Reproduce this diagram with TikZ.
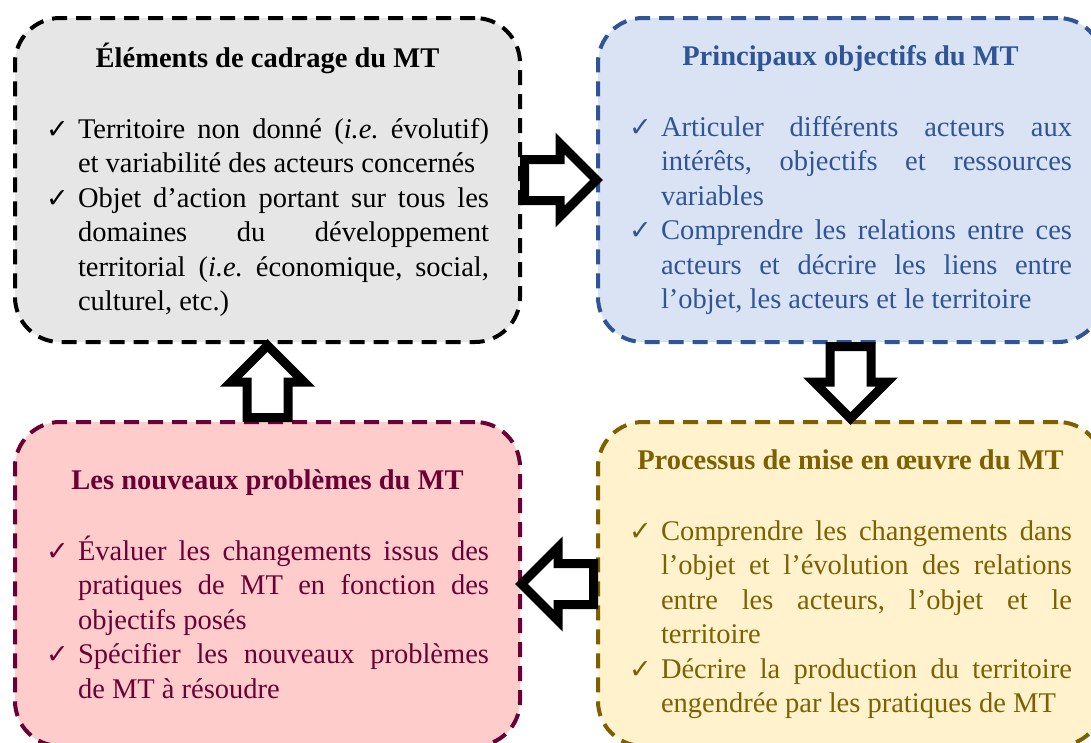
\documentclass[tikz,border=0pt]{standalone}
\usepackage{fontspec}
\setmainfont{Liberation Serif}
\newfontfamily\checkfont{DejaVu Sans}
\usetikzlibrary{positioning,shapes.arrows}

\definecolor{cadreline}{HTML}{000000}
\definecolor{cadrefill}{HTML}{E7E6E6}
\definecolor{objline}{HTML}{2F5597}
\definecolor{objfill}{HTML}{DAE3F3}
\definecolor{procline}{HTML}{7F6000}
\definecolor{procfill}{HTML}{FFF2CC}
\definecolor{probline}{HTML}{6B0036}
\definecolor{probfill}{HTML}{FFCCCC}

\hyphenpenalty=10000
\tolerance=9999
\emergencystretch=20pt
\frenchspacing

\newcommand{\paneltitle}[1]{{\centering\bfseries #1\par}\vskip 36.5pt}
\newcommand{\chkitem}[1]{\noindent\hangindent=32pt\hangafter=1
    \makebox[32pt][l]{{\fontsize{27}{27}\checkfont ✓}}#1\par}

\begin{document}
\begin{tikzpicture}[x=1pt,y=-1pt,node distance=78pt]
    \tikzstyle{panel}=[rounded corners=45pt,dash pattern=on 15pt off 9pt,line width=4pt,
        outer sep=0pt,minimum width=505pt,minimum height=324pt,text width=443pt,
        inner xsep=31pt,align=justify,font=\fontsize{28.5}{34.5}\selectfont]
    \tikzstyle{cadre}=[panel,draw=cadreline,fill=cadrefill,text=cadreline]
    \tikzstyle{objectif}=[panel,draw=objline,fill=objfill,text=objline]
    \tikzstyle{processus}=[panel,draw=procline,fill=procfill,text=procline]
    \tikzstyle{probleme}=[panel,draw=probline,fill=probfill,text=probline]
    \tikzstyle{flow}=[single arrow,draw=black,fill=white,line width=9pt,
        minimum height=72pt,minimum width=64pt,inner xsep=0pt,inner ysep=16pt,
        single arrow head extend=16pt,single arrow tip angle=90,pos=0,anchor=tail]

    \useasboundingbox (0,0) rectangle (1091,742);

    % Draw the four panels
    \node[cadre] (cadre) at (267.5,180) {%
        \paneltitle{Éléments de cadrage du MT}
        \chkitem{Territoire non donné (\textit{i.e.} évolutif)\linebreak
        et variabilité des acteurs concernés}
        \chkitem{Objet d’action portant sur tous les\linebreak
        domaines du développement\linebreak
        territorial (\textit{i.e.} économique, social,\linebreak
        culturel, etc.)}};
    \node[objectif, right=of cadre] (obj) {%
        \paneltitle{Principaux objectifs du MT}
        \chkitem{Articuler différents acteurs aux\linebreak
        intérêts, objectifs et ressources\linebreak
        variables}
        \chkitem{Comprendre les relations entre ces\linebreak
        acteurs et décrire les liens entre\linebreak
        l’objet, les acteurs et le territoire}};
    \node[probleme, below=80pt of cadre] (prob) {%
        \paneltitle{Les nouveaux problèmes du MT}
        \chkitem{Évaluer les changements issus des\linebreak
        pratiques de MT en fonction des\linebreak
        objectifs posés}
        \chkitem{Spécifier les nouveaux problèmes\linebreak
        de MT à résoudre}};
    \node[processus, right=of prob] (proc) {%
        \paneltitle{Processus de mise en œuvre du MT}
        \chkitem{Comprendre les changements dans\linebreak
        l’objet et l’évolution des relations\linebreak
        entre les acteurs, l’objet et le\linebreak
        territoire}
        \chkitem{Décrire la production du territoire\linebreak
        engendrée par les pratiques de MT}};

    % Block arrows between the panels
    \path (cadre) -- node[flow] (f1) {} (obj);
    \path (obj) -- node[flow,rotate=-90] (f2) {} (proc);
    \path (proc) -- node[flow,rotate=180] (f3) {} (prob);
    \path (prob) -- node[flow,rotate=90] (f4) {} (cadre);
\end{tikzpicture}
\end{document}
